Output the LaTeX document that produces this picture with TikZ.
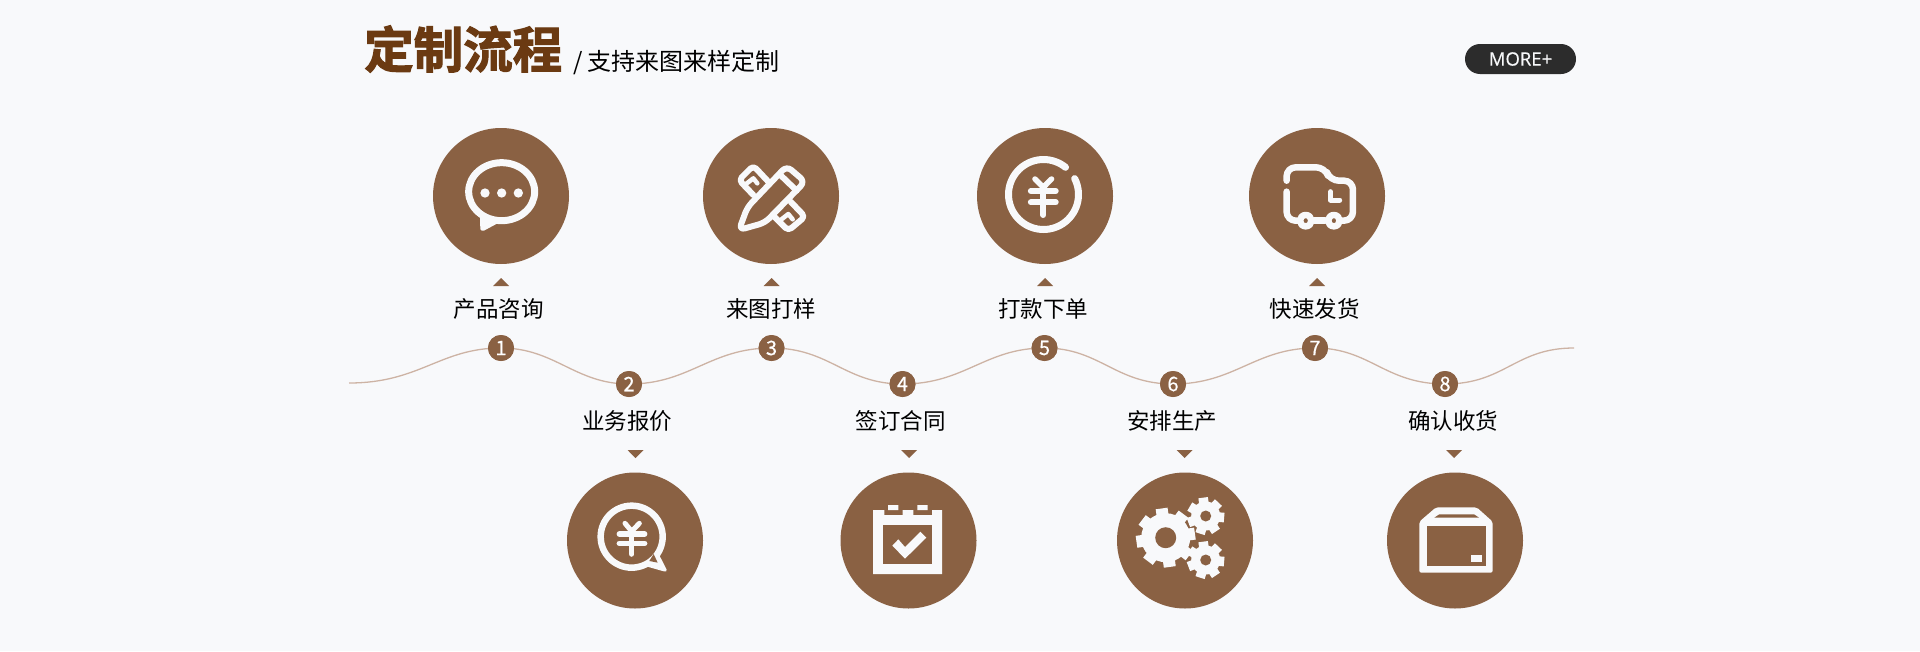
\documentclass[tikz,border=0pt]{standalone}
\usepackage{fontspec}
\setmainfont{Noto Sans CJK SC}
\newfontfamily\titlefont[FakeBold=2.2]{Noto Sans CJK SC Bold}
\newfontfamily\morefont[FakeBold=0.3]{Open Sans}
\newfontfamily\digitfont[FakeBold=0.5]{Noto Sans CJK SC}
\definecolor{bgc}{HTML}{F8F9FB}
\definecolor{brn}{HTML}{8A6143}
\definecolor{ttl}{HTML}{6B3A12}
\definecolor{wavec}{HTML}{CDB3A4}
\definecolor{pill}{HTML}{2C2C2C}
\tikzset{
  bigdisc/.style={circle,fill=brn,minimum size=136pt,inner sep=0pt,outer sep=0pt},
  badge/.style={circle,fill=brn,minimum size=26pt,inner sep=0pt,outer sep=0pt,text=white,font=\fontsize{20}{21}\selectfont\digitfont},
  lab/.style={inner sep=0pt,outer sep=0pt,text=black,font=\fontsize{22.5}{24}\selectfont},
  ink/.style={draw=bgc,line width=#1,line cap=round,line join=round},
  ink/.default=6.5pt,
  wavy/.style={draw=wavec,line width=1.3pt},
}
\newcommand{\uptri}[1]{\fill[brn] (#1-8,286)--(#1,278)--(#1+8,286)--cycle;}
\newcommand{\downtri}[1]{\fill[brn] (#1-8,450)--(#1+8,450)--(#1,458)--cycle;}
\newcommand{\gearicon}[7]{% cx cy R root hole halfw count
  \pgfmathsetmacro{\stp}{360/#7}
  \pgfmathsetmacro{\lst}{360-\stp+8}
  \pgfmathsetmacro{\scd}{\stp+8}
  \foreach \a in {8,\scd,...,\lst}
    \fill[bgc,rotate around={\a:(#1,#2)}] (#1-#6,#2-#3) rectangle (#1+#6,#2);
  \fill[bgc] (#1,#2) circle (#4);
  \fill[brn] (#1,#2) circle (#5);
}
\begin{document}
\begin{tikzpicture}[x=1pt,y=-1pt]
\useasboundingbox (0,0) rectangle (1920,651);
\fill[bgc] (0,0) rectangle (1920,651);

% heading
\node[anchor=west,inner sep=0pt,text=ttl,font=\fontsize{49.5}{52}\selectfont\titlefont] (title) at (364,49) {定制流程};
\node[anchor=west,inner sep=0pt,text=black,font=\fontsize{24}{26}\selectfont] (sub) at (573,62) {/ 支持来图来样定制};
\node[rounded corners=15pt,fill=pill,minimum width=111pt,minimum height=30pt,inner sep=0pt,text=bgc,font=\fontsize{18.5}{20}\selectfont\morefont] (more) at (1520.5,59) {MORE+};

% wave
\coordinate (w0) at (349,383);
\coordinate (w9) at (1574,348);
\node[badge] (n1) at (501,348) {};
\node[badge] (n2) at (629,384) {};
\node[badge] (n3) at (771.5,348) {};
\node[badge] (n4) at (902.5,384) {};
\node[badge] (n5) at (1044.5,348) {};
\node[badge] (n6) at (1173,384) {};
\node[badge] (n7) at (1315,348) {};
\node[badge] (n8) at (1445,384) {};
\draw[wavy] (w0) .. controls (420,383) and (440,348) .. (n1.center)
  .. controls (555,348) and (575,384) .. (n2.center)
  .. controls (690,384) and (710,348) .. (n3.center)
  .. controls (830,348) and (845,384) .. (n4.center)
  .. controls (965,384) and (985,348) .. (n5.center)
  .. controls (1100,348) and (1115,384) .. (n6.center)
  .. controls (1235,384) and (1255,348) .. (n7.center)
  .. controls (1370,348) and (1385,384) .. (n8.center)
  .. controls (1505,384) and (1515,348) .. (w9);
\node[badge] at (n1) {1};
\node[badge] at (n2) {2};
\node[badge] at (n3) {3};
\node[badge] at (n4) {4};
\node[badge] at (n5) {5};
\node[badge] at (n6) {6};
\node[badge] at (n7) {7};
\node[badge] at (n8) {8};

% labels
\node[lab] (l1) at (498.5,309) {产品咨询};
\node[lab] (l3) at (771,308.5) {来图打样};
\node[lab] (l5) at (1043,308.5) {打款下单};
\node[lab] (l7) at (1314.5,308.5) {快速发货};
\node[lab] (l2) at (627,421) {业务报价};
\node[lab] (l4) at (900.5,421) {签订合同};
\node[lab] (l6) at (1172,421) {安排生产};
\node[lab] (l8) at (1453,421) {确认收货};

\uptri{501}\uptri{771.5}\uptri{1045}\uptri{1317}
\downtri{635.5}\downtri{909}\downtri{1184.5}\downtri{1454}

% discs
\node[bigdisc] (d1) at (501,196) {};
\node[bigdisc] (d3) at (771,196) {};
\node[bigdisc] (d5) at (1045,196) {};
\node[bigdisc] (d7) at (1317,196) {};
\node[bigdisc] (d2) at (635,540.5) {};
\node[bigdisc] (d4) at (908.5,540.5) {};
\node[bigdisc] (d6) at (1185,540.5) {};
\node[bigdisc] (d8) at (1455,540.5) {};

% icon 1 : speech bubble
\begin{scope}[shift={(340,0)},scale=1/3]
  \draw[ink=7pt] (485,575) circle [x radius=99,y radius=87];
  \fill[bgc,rounded corners=1pt] (420,645)--(421,690)--(430,693)--(482,665)--(445,650)--cycle;
  \fill[bgc] (435,579) circle (14) (485,579) circle (14) (535,579) circle (14);
\end{scope}

% icon 3 : pencil and ruler
\begin{scope}[shift={(340,0)},scale=1/3]
  \draw[ink=6pt,rounded corners=4pt] (1285,545)--(1240,497)--(1197,540)--(1240,585);
  \draw[ink=4.5pt] (1218,552)--(1240,535)--(1252,550);
  \draw[ink=6pt,rounded corners=4pt] (1352,605)--(1395,650)--(1345,692)--(1300,647);
  \draw[ink=4.5pt] (1322,660)--(1345,642)--(1358,658);
  \draw[fill=brn,ink=6pt,rounded corners=6pt] (1197,690)--(1222,622)--(1340,498)--(1395,545)--(1275,668)--cycle;
  \draw[ink=6pt] (1318,522)--(1370,572);
\end{scope}

% icon 5 : coin
\draw[ink=7pt] plot[domain=51:387,samples=70] ({1043.5+35*cos(\x)},{194.5-35*sin(\x)});
\begin{scope}[shift={(950,110)},xscale=1/2.412,yscale=1/3]
  \draw[ink=5.5pt] (205,207)--(225,232)--(245,207);
  \draw[ink=6pt] (195,243)--(255,243) (195,277)--(255,277) (225,232)--(225,315);
\end{scope}

% icon 7 : truck
\begin{scope}[shift={(950,110)},xscale=1/2.412,yscale=1/3]
  \draw[ink=6.5pt,rounded corners=9pt] (812,212)--(812,172)--(905,172)--(916,212)--(972,212)--(972,332)--(945,332);
  \draw[ink=6.5pt] (905,332)--(878,332);
  \draw[ink=6.5pt,rounded corners=9pt] (838,332)--(812,332)--(812,245);
  \draw[ink=6.5pt] (858,332) circle [x radius=14,y radius=17];
  \draw[ink=6.5pt] (926,332) circle [x radius=14,y radius=17];
  \draw[ink=5pt] (918,245)--(918,270)--(940,270);
\end{scope}

% icon 2 : yen bubble
\begin{scope}[shift={(550,460)},scale=1/3]
  \fill[bgc,rounded corners=1.5pt] (316,262)--(352,333)--(345,335)--(285,318)--cycle;
  \draw[ink=6.5pt,fill=brn] (245,230) circle (93);
  \fill[brn] (311,282)--(323,308)--(298,303)--cycle;
  \draw[ink=5pt] (225,190)--(245,214)--(268,190);
  \draw[ink=5.5pt] (208,222)--(284,222) (208,250)--(284,250) (245,214)--(245,282);
\end{scope}

% icon 4 : calendar
\begin{scope}[shift={(550,460)},scale=1/3]
  \fill[bgc] (969,150)--(1003,150)--(1003,165)--(1058,165)--(1058,150)--(1090,150)--(1090,165)--(1146,165)--(1146,150)--(1176,150)--(1176,342)--(969,342)--cycle;
  \fill[bgc] (1014,135) rectangle (1045,150) (1102,135) rectangle (1133,150);
  \fill[brn] (1000,195) rectangle (1146,312);
  \fill[bgc] (1027,257)--(1045,238)--(1065,261)--(1111,215)--(1129,233)--(1065,296)--cycle;
\end{scope}

% icon 6 : gears
\gearicon{1165.7}{537.7}{29.5}{24.5}{10.5}{6}{8}
\gearicon{1205.7}{516}{18.5}{14.5}{5.5}{4.8}{7}
\gearicon{1205.7}{560}{18.5}{14.5}{5.5}{4.8}{7}

% icon 8 : box
\begin{scope}[shift={(1100,460)},scale=1/3]
  \fill[bgc,rounded corners=2pt] (958,185)--(1008,142)--(1130,142)--(1178,185)--(1178,338)--(958,338)--cycle;
  \fill[brn] (981,197) rectangle (1157,317);
  \fill[brn] (1003,173)--(1018,163)--(1122,163)--(1137,173)--cycle;
  \fill[bgc] (1113,285) rectangle (1146,307);
\end{scope}
\end{tikzpicture}
\end{document}
